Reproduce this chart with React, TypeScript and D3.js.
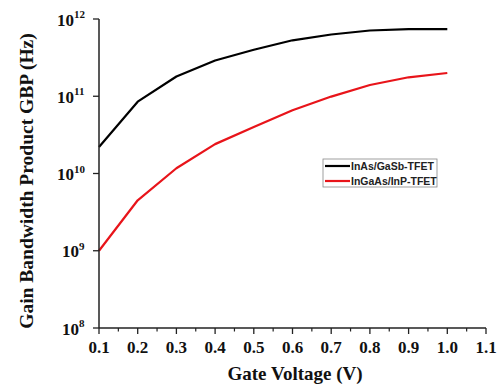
import React from "react";
import * as d3 from "d3";

const gateVoltage = [0.1, 0.2, 0.3, 0.4, 0.5, 0.6, 0.7, 0.8, 0.9, 1.0];
const gbpInAsGaSb = [2.2e10, 8.5e10, 1.8e11, 2.9e11, 4.0e11, 5.3e11, 6.3e11, 7.1e11, 7.4e11, 7.4e11];
const gbpInGaAsInP = [1.0e9, 4.5e9, 1.17e10, 2.4e10, 4.0e10, 6.6e10, 9.9e10, 1.4e11, 1.76e11, 2.0e11];
const xTicks = [0.1, 0.2, 0.3, 0.4, 0.5, 0.6, 0.7, 0.8, 0.9, 1.0, 1.1];
const yTickExponents = [8, 9, 10, 11, 12];
const seriesNames = ["InAs/GaSb-TFET", "InGaAs/InP-TFET"];
const seriesColors = ["#000000", "#e8141a"];

const W = 498;
const H = 385;
const serif = "'Liberation Serif', 'Times New Roman', serif";
const sans = "'Liberation Sans', Arial, sans-serif";

export default function App() {
  const x = d3.scaleLinear().domain([0.1, 1.1]).range([99, 486]);
  const y = d3.scaleLog().domain([1e8, 1e12]).range([328, 19]);
  const line = d3
    .line<[number, number]>()
    .x((d) => x(d[0]))
    .y((d) => y(d[1]));
  const series = [gbpInAsGaSb, gbpInGaAsInP].map((vals) =>
    gateVoltage.map((v, i) => [v, vals[i]] as [number, number])
  );
  const minorX = d3.range(0.15, 1.1, 0.1);

  return (
    <svg
      width={W}
      height={H}
      style={{ position: "absolute", left: 0, top: 0, background: "#fff" }}
    >
      {/* data lines */}
      {series.map((s, i) => (
        <path
          key={i}
          d={line(s) || ""}
          fill="none"
          stroke={seriesColors[i]}
          strokeWidth={2.2}
          strokeLinejoin="round"
        />
      ))}

      {/* axes */}
      <line x1={99} x2={99} y1={y(1e12)} y2={y(1e8)} stroke="#222" strokeWidth={1.5} />
      <line x1={99} x2={486} y1={328} y2={328} stroke="#222" strokeWidth={1.5} />

      {/* x ticks */}
      {xTicks.map((t) => (
        <g key={t}>
          <line x1={x(t)} x2={x(t)} y1={328} y2={334} stroke="#222" strokeWidth={1.3} />
          <text
            x={x(t)}
            y={353}
            textAnchor="middle"
            fontFamily={serif}
            fontWeight="bold"
            fontSize={17}
            fill="#111"
          >
            {t.toFixed(1)}
          </text>
        </g>
      ))}
      {minorX.map((t) => (
        <line key={t} x1={x(t)} x2={x(t)} y1={328} y2={331.5} stroke="#222" strokeWidth={1.2} />
      ))}

      {/* y ticks */}
      {yTickExponents.map((e) => (
        <g key={e}>
          <line x1={93} x2={99} y1={y(10 ** e)} y2={y(10 ** e)} stroke="#222" strokeWidth={1.3} />
          <text
            x={e >= 10 ? 57 : 62}
            y={y(10 ** e) + 6.5}
            fontFamily={serif}
            fontWeight="bold"
            fontSize={17}
            fill="#111"
          >
            10
            <tspan dy={-7.5} fontSize={11}>
              {e}
            </tspan>
          </text>
        </g>
      ))}

      {/* axis titles */}
      <text
        x={295}
        y={380}
        textAnchor="middle"
        fontFamily={serif}
        fontWeight="bold"
        fontSize={19}
        fill="#111"
      >
        Gate Voltage (V)
      </text>
      <text
        transform="translate(33,181) rotate(-90)"
        textAnchor="middle"
        fontFamily={serif}
        fontWeight="bold"
        fontSize={19.5}
        fill="#111"
      >
        Gain Bandwidth Product GBP (Hz)
      </text>

      {/* legend */}
      <rect x={323} y={159} width={114} height={28} fill="#fff" stroke="#888" strokeWidth={0.8} />
      {seriesNames.map((name, i) => (
        <g key={name}>
          <line
            x1={325}
            x2={350}
            y1={166 + i * 15}
            y2={166 + i * 15}
            stroke={seriesColors[i]}
            strokeWidth={2.2}
          />
          <text
            x={351}
            y={170 + i * 15}
            fontFamily={sans}
            fontWeight="bold"
            fontSize={10.5}
            fill="#222"
          >
            {name}
          </text>
        </g>
      ))}
    </svg>
  );
}
